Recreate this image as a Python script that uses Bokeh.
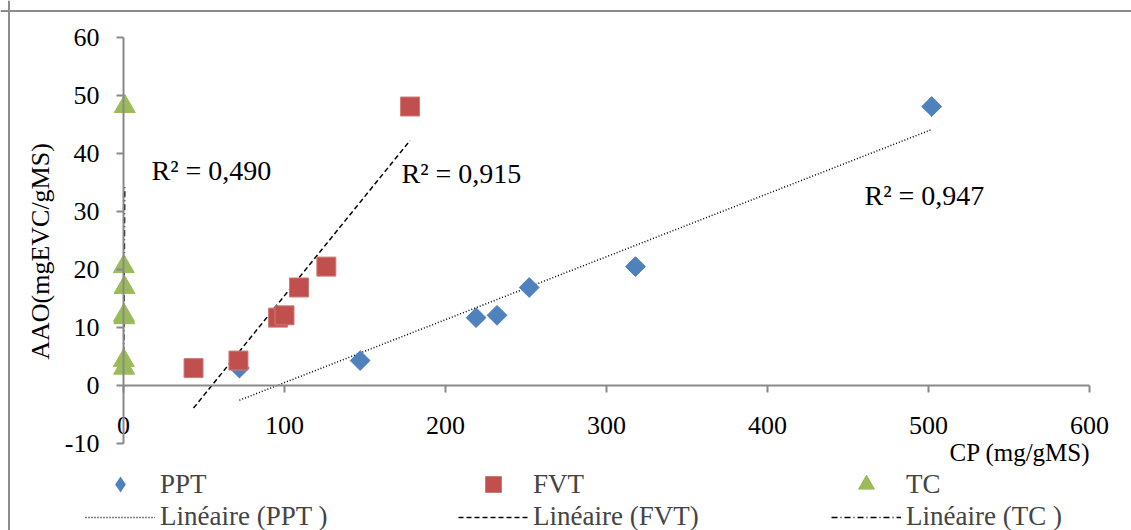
import numpy as np
from bokeh.plotting import figure
from bokeh.models import Range1d, LinearAxis, FixedTicker, Label, Legend, LegendItem, Span
from bokeh.embed import file_html
from bokeh.resources import INLINE

# ---- data ----
aao = [3.0, 4.3, 11.7, 12.1, 16.9, 20.5, 48.1]          # AAO (mgEVC/gMS)
cp_ppt = [72, 147, 219, 232, 252, 318, 502]             # CP (mg/gMS) PPT
cp_fvt = [43.5, 71.4, 96, 100, 109, 126, 178]           # CP (mg/gMS) FVT
cp_tc = [0.4, 0.2, 0.5, 0.3, 0.6, 0.2, 0.8]             # CP (mg/gMS) TC
series_names = ["PPT", "FVT", "TC"]
trend_names = ["Linéaire (PPT )", "Linéaire (FVT)", "Linéaire (TC )"]
r2_texts = ["R² = 0,947", "R² = 0,915", "R² = 0,490"]
x_ticks = [0, 100, 200, 300, 400, 500, 600]
y_ticks = [-10, 0, 10, 20, 30, 40, 50, 60]
x_title = "CP (mg/gMS)"
y_title = "AAO(mgEVC/gMS)"

FONT = "Liberation Serif"
BLUE, RED, GREEN = "#4F81BD", "#C0504D", "#9BBB59"
AXIS_COL = "#898989"

W, H = 1131, 530
# frame == canvas
# x: px 123 -> 0, 1.61 px/unit ; y: px 385 -> 0, 5.8 px/unit
sx, sy = 1.61, 5.8
x0 = (0 - 123) / sx
x1 = (W - 123) / sx
y1 = (385 - 0) / sy
y0 = (385 - H) / sy

p = figure(width=W, height=H, output_backend="svg", toolbar_location=None,
           x_range=Range1d(x0, x1), y_range=Range1d(y0, y1),
           x_axis_location=None, y_axis_location=None, min_border=0)
p.outline_line_color = None
p.xgrid.visible = False
p.ygrid.visible = False
p.background_fill_color = "white"

# axes crossing at 0
yaxis = LinearAxis(fixed_location=0, bounds=(-10, 60), ticker=FixedTicker(ticks=y_ticks))
xaxis = LinearAxis(fixed_location=0, bounds=(0, 600), ticker=FixedTicker(ticks=x_ticks))
for ax in (xaxis, yaxis):
    ax.axis_line_color = AXIS_COL
    ax.axis_line_width = 2
    ax.major_tick_line_color = AXIS_COL
    ax.major_tick_line_width = 2
    ax.major_tick_out = 7
    ax.major_tick_in = 0
    ax.minor_tick_line_color = None
    ax.major_label_text_font = FONT
    ax.major_label_text_font_size = "26px"
    ax.major_label_text_color = "black"
yaxis.major_label_overrides = {t: str(t) for t in y_ticks}
xaxis.major_label_overrides = {t: str(t) for t in x_ticks}
yaxis.major_label_standoff = 17
xaxis.major_label_standoff = 24
p.add_layout(yaxis, "left")
p.add_layout(xaxis, "below")

# trend lines (least squares over each series)
def trend(xs, ys):
    a, b = np.polyfit(xs, ys, 1)
    xx = np.array([min(xs), max(xs)], dtype=float)
    return xx, a * xx + b

tx, ty = trend(cp_ppt, aao)
l_ppt = p.line(tx, ty, line_color="black", line_width=1.5, line_dash="1 2")
tx, ty = trend(cp_fvt, aao)
l_fvt = p.line(tx, ty, line_color="black", line_width=1.5, line_dash="5 3")
tx, ty = trend(cp_tc, aao)
l_tc = p.line(tx, ty, line_color="black", line_width=1.5, line_dash="6 3 1 3")

# markers
r_ppt = p.scatter(cp_ppt, aao, marker="square", angle=np.pi / 4, size=14,
                  fill_color=BLUE, line_color=BLUE)
r_fvt = p.scatter(cp_fvt, aao, marker="square", size=19,
                  fill_color=RED, line_color="#D07A78", line_width=1)
r_tc = p.scatter(cp_tc, aao, marker="triangle", size=21,
                 fill_color=GREEN, line_color=GREEN)
# legend key for PPT: same data, diamond shape, zero size on the plot
k_ppt = p.scatter(cp_ppt, aao, marker="diamond", size=0,
                  fill_color=BLUE, line_alpha=0)

# R² labels
for txt, px, py in [(r2_texts[0], 864, 195), (r2_texts[1], 401, 173), (r2_texts[2], 151, 170)]:
    p.add_layout(Label(x=(px - 123) / sx, y=(385 - py) / sy, text=txt,
                       text_font=FONT, text_font_size="28px", text_align="left",
                       text_baseline="middle", text_color="black"))

# axis titles
p.add_layout(Label(x=(1090 - 123) / sx, y=(385 - 452) / sy, text=x_title,
                   text_font=FONT, text_font_size="25px", text_align="right",
                   text_baseline="middle", text_color="black"))
p.add_layout(Label(x=(40 - 123) / sx, y=(385 - 251) / sy, text=y_title, angle=np.pi / 2,
                   text_font=FONT, text_font_size="26px", text_align="center",
                   text_baseline="middle", text_color="black"))

# chart border (top and left visible)
p.add_layout(Span(location=(385 - 10.5) / sy, dimension="width", line_color="#8C8C8C", line_width=2))
p.add_layout(Span(location=(8.5 - 123) / sx, dimension="height", line_color="#8C8C8C", line_width=2))

# legends
common = dict(orientation="horizontal", glyph_width=70, label_standoff=5, label_width=298,
              spacing=0, padding=0, margin=0, border_line_color=None, background_fill_alpha=0,
              label_text_font=FONT, label_text_font_size="27px")
leg1 = Legend(items=[LegendItem(label=series_names[0], renderers=[k_ppt]),
                     LegendItem(label=series_names[1], renderers=[r_fvt]),
                     LegendItem(label=series_names[2], renderers=[r_tc])],
              location=(85, 26), glyph_height=40, label_height=40, **common)
leg2 = Legend(items=[LegendItem(label=trend_names[0], renderers=[l_ppt]),
                     LegendItem(label=trend_names[1], renderers=[l_fvt]),
                     LegendItem(label=trend_names[2], renderers=[l_tc])],
              location=(85, -2), glyph_height=30, label_height=30, **common)
p.add_layout(leg1)
p.add_layout(leg2)

open("out.html", "w").write(file_html(p, INLINE))
